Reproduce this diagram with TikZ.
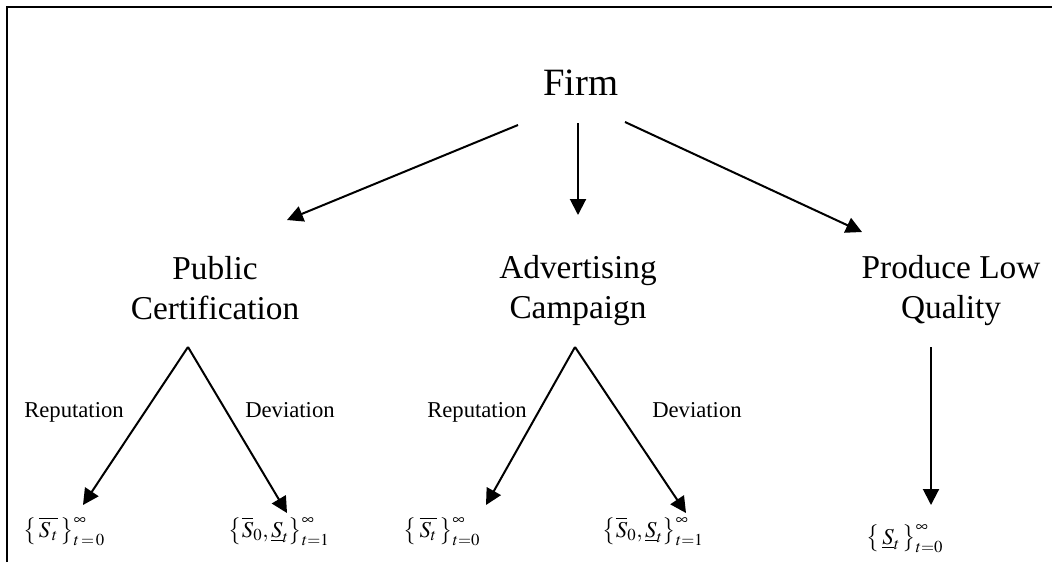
\documentclass[tikz,border=0pt]{standalone}
\usepackage{mathptmx}
\usepackage{fontspec}
\setmainfont{Liberation Serif}
\usetikzlibrary{arrows.meta}

\tikzset{
	arr/.style={-{Triangle[length=12pt,width=12pt]}},
	choice/.style={align=center, inner sep=0pt, font=\fontsize{25}{30}\selectfont},
	branch/.style={anchor=base, inner sep=0pt, font=\fontsize{17}{20}\selectfont},
	path/.style={anchor=base, inner sep=0pt, font=\fontsize{17}{20}\selectfont}
}

\begin{document}
\begin{tikzpicture}[x=0.75pt, y=-0.75pt, line width=1.5pt]
	\useasboundingbox (0,0) rectangle (1052,562);
	% frame
	\draw (7,562) -- (7,7) -- (1052,7);

	% firm and its options
	\node[anchor=base, inner sep=0pt, font=\fontsize{29}{34}\selectfont] (firm) at (581,95) {Firm};
	\node[choice] (pub) at (215,288) {Public\\Certification};
	\node[choice] (adv) at (578,291) {Advertising\\Campaign};
	\node[choice] (low) at (951,291) {Produce Low\\Quality};

	\coordinate (firmL) at (518,125);
	\coordinate (firmM) at (578,123);
	\coordinate (firmR) at (625,122);
	\coordinate (pubtop) at (287,220);
	\coordinate (advtop) at (578,215);
	\coordinate (lowtop) at (862,232);
	\draw[arr] (firmL) -- (pubtop);
	\draw[arr] (firmM) -- (advtop);
	\draw[arr] (firmR) -- (lowtop);

	% reputation / deviation branches
	\coordinate (pubfork) at (188,347);
	\coordinate (advfork) at (575,347);
	\coordinate (lowfork) at (931,347);
	\coordinate (pubrep) at (83,505);
	\coordinate (pubdev) at (287,513);
	\coordinate (advrep) at (486,505);
	\coordinate (advdev) at (686,513);
	\coordinate (lowend) at (931,505);
	\draw[arr] (pubfork) -- (pubrep);
	\draw[arr] (pubfork) -- (pubdev);
	\draw[arr] (advfork) -- (advrep);
	\draw[arr] (advfork) -- (advdev);
	\draw[arr] (lowfork) -- (lowend);

	\node[branch] (pubreplab) at (74,417) {Reputation};
	\node[branch] (pubdevlab) at (290,417) {Deviation};
	\node[branch] (advreplab) at (477,417) {Reputation};
	\node[branch] (advdevlab) at (697,417) {Deviation};

	% signal sequences
	\node[path] (pubrepseq) at (64,537) {$\bigl\{\,\overline{S_{\,t}}\,\bigr\}_{t\,=\,0}^{\infty}$};
	\node[path] (pubdevseq) at (279,537) {$\bigl\{\overline{S}_0,\underline{S}_t\bigr\}_{t=1}^{\infty}$};
	\node[path] (advrepseq) at (442,537) {$\bigl\{\,\overline{S_t}\,\bigr\}_{t=0}^{\infty}$};
	\node[path] (advdevseq) at (653,537) {$\bigl\{\overline{S}_0,\underline{S}_t\bigr\}_{t=1}^{\infty}$};
	\node[path] (lowseq) at (905,544) {$\bigl\{\,\underline{S}_t\,\bigr\}_{t=0}^{\infty}$};
\end{tikzpicture}
\end{document}
